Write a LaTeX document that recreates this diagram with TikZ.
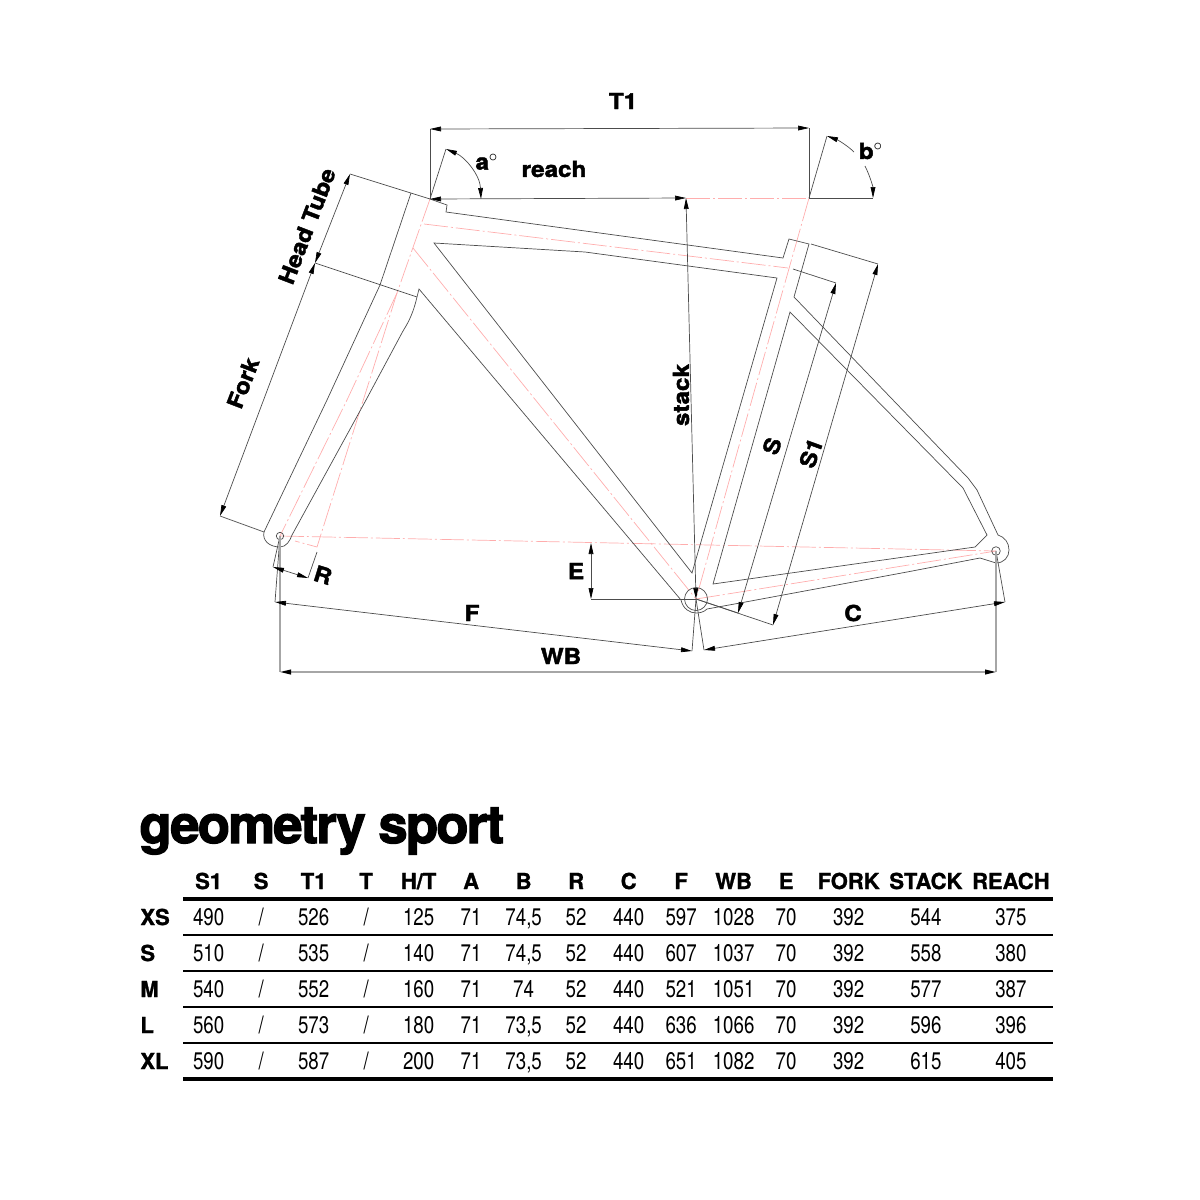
\documentclass[tikz,border=0pt]{standalone}
\usepackage{fontspec}
\usetikzlibrary{arrows.meta,matrix}
\setmainfont{TeX Gyre Heros}
\newfontfamily\cellface[FakeStretch=0.78]{TeX Gyre Heros}
\newfontfamily\headface[FakeBold=1.2]{TeX Gyre Heros Bold}
\newfontfamily\dimface[FakeBold=2,FakeStretch=1.1]{TeX Gyre Heros Bold}
\newfontfamily\titleface[FakeBold=2.5,LetterSpace=-3.3]{TeX Gyre Heros Bold}
\begin{document}
\begin{tikzpicture}[x=0.5pt,y=-0.5pt,>={Stealth[length=5.5pt,width=2.4pt,inset=0pt,black]},
frameline/.style={draw=black!70,line width=0.35pt,line join=miter},
axisline/.style={draw=red!32,line width=0.35pt,dash pattern=on 12pt off 1.5pt on 1pt off 1.5pt},
dimline/.style={draw=black!70,line width=0.35pt},
wideline/.style={draw=black!35,line width=0.7pt},
dimlabel/.style={font=\dimface\fontsize{11}{11}\selectfont,inner sep=0pt,text=black},
thinrule/.style={draw=black,line width=1pt},
thickrule/.style={draw=black,line width=1.8pt}
]
\useasboundingbox (0,0) rectangle (1200,1200);
\coordinate (axle) at (280,536);
\coordinate (bb) at (696,599);
\coordinate (drop) at (996,551);
\coordinate (headtop) at (430,199);
\coordinate (seattop) at (809,198);
\coordinate (stacktop) at (686,198);
\coordinate (forkmid) at (315,263);
\coordinate (forktop) at (350,174);
\coordinate (forkend) at (220,516);
% Centre lines:
\draw[axisline] (headtop) -- (397,293) -- (317,547) -- (295,541);
\draw[axisline] (397,293) -- (347,400) -- (axle);
\draw[axisline] (424,224) -- (788,268);
\draw[axisline] (413,248) -- (bb);
\draw[axisline] (seattop) -- (758,378) -- (bb);
\draw[axisline] (stacktop) -- (seattop);
\draw[axisline] (axle) -- (drop);
\draw[axisline] (bb) -- (740,592) -- (drop);
% The frame:
\draw[frameline] (411,193) -- (380,285) -- (327,400) -- (264,532)
  .. controls (262,541) and (270,547) .. (280,547) .. controls (286,547) and (290,541) .. (292,535)
  -- (366,400) -- (403,331) .. controls (410,320) and (414,310) .. (417,297) -- (419,289) -- (681,600)
  .. controls (683,609) and (690,613) .. (696,613) .. controls (700,613) and (704,612) .. (707,609)
  -- (740,603) -- (907,572) -- (980,558) -- (996,563)
  .. controls (1004,563) and (1009,557) .. (1009,550) .. controls (1009,543) and (1005,537) .. (998,535)
  -- (977,490) -- (968,478) -- (794,297) -- (809,244) -- (789,239) -- (783,258) -- (446,212) -- (447,205) -- (headtop);
\draw[frameline] (434,243) -- (585,252) -- (777,278) -- (692,573) -- cycle;
\draw[frameline] (790,312) -- (713,584) -- (975,547) -- (987,535) -- (963,488) -- cycle;
\draw[frameline] (bb) circle (11.5);
\draw[frameline] (axle) circle (3.7);
\draw[frameline] (drop) circle (4.3);
% Extension lines:
\draw[dimline] (forktop) -- (headtop);
\draw[dimline] (forkmid) -- (417,297);
\draw[dimline] (forkend) -- (264,532);
\draw[dimline] (headtop) -- (430,129);
\draw[dimline] (seattop) -- (809,128);
\draw[dimline] (headtop) -- (446,149);
\draw[dimline] (seattop) -- (827,136);
\draw[dimline] (seattop) -- (873,198);
\draw[dimline] (axle) -- (273,567);
\draw[dimline] (317,552) -- (308,578);
\draw[dimline] (axle) -- (275,602);
\draw[dimline] (bb) -- (692,651);
\draw[dimline] (bb) -- (704,650);
\draw[dimline] (drop) -- (1005,602);
\draw[dimline] (591,599) -- (bb);
\draw[dimline] (bb) -- (738,613);
\draw[dimline] (bb) -- (773,625);
\draw[dimline] (793,269) -- (836,283);
\draw[dimline] (811,244) -- (878,264);
\draw[wideline] (axle) -- (280,672);
\draw[wideline] (drop) -- (996,672);
% Dimensions:
\draw[dimline,<->] (430,129) -- (809,128);
\draw[dimline,<->] (headtop) -- (stacktop);
\draw[dimline,<->] (stacktop) -- (bb);
\draw[dimline,<->] (446,149) .. controls (465,157) and (480,175) .. (481,199);
\draw[dimline,<-] (827,136) .. controls (838,140) and (848,146) .. (854,152);
\draw[dimline,->] (865,166) .. controls (870,176) and (873,187) .. (873,198);
\draw[dimline,<->] (forktop) -- (forkmid);
\draw[dimline,<->] (forkmid) -- (forkend);
\draw[dimline,<->] (273,567) -- (308,578);
\draw[dimline,<->] (275,602) -- (692,651);
\draw[dimline,<->] (704,650) -- (1005,602);
\draw[wideline,<->] (280,672) -- (996,672);
\draw[dimline,<->] (591,543) -- (591,599);
\draw[dimline,<->] (836,283) -- (738,613);
\draw[dimline,<->] (878,264) -- (773,625);
% Labels:
\node (t1) [dimlabel] at (623,101) {T1};
\node (reach) [dimlabel] at (554,169) {reach};
\node (a) [dimlabel] at (487,162) {a$^{\circ}$};
\node (b) [dimlabel] at (871,151) {b$^{\circ}$};
\node (headtube) [dimlabel,rotate=69] at (307,226) {Head Tube};
\node (fork) [dimlabel,rotate=69] at (243,383) {Fork};
\node (stack) [dimlabel,rotate=90] at (681,395) {stack};
\node (s) [dimlabel,rotate=70] at (772,446) {S};
\node (s1) [dimlabel,rotate=70] at (811,453) {S1};
\node (e) [dimlabel] at (576,571) {E};
\node (f) [dimlabel] at (472,613) {F};
\node (wb) [dimlabel] at (561,656) {WB};
\node (c) [dimlabel] at (853,613) {C};
\node (r) [dimlabel,rotate=-17] at (323,575) {R};
% The table:
\node (title) [anchor=base west,inner sep=0pt,font=\titleface\fontsize{26.3}{26.3}\selectfont] at (139,843) {geometry sport};
\matrix (geo) [matrix of nodes,anchor=north west,inner sep=0pt,row sep=0pt,column sep=0pt,
  nodes={inner sep=0pt,minimum width=26.25pt,minimum height=18pt,text height=8.6pt,text depth=0pt,font=\cellface\fontsize{12}{12}\selectfont},
  column 1/.style={nodes={minimum width=21pt,text width=21pt,align=left,font=\headface\fontsize{11}{11}\selectfont}},
  row 1/.style={nodes={font=\headface\fontsize{11}{11}\selectfont}},
  column 14/.style={nodes={minimum width=36.25pt}},
  column 15/.style={nodes={minimum width=41pt}},
  column 16/.style={nodes={minimum width=44pt}}
] at (140,862) {
 & S1 & S & T1 & T & H/T & A & B & R & C & F & WB & E & FORK & STACK & REACH \\
XS & 490 & / & 526 & / & 125 & 71 & 74,5 & 52 & 440 & 597 & 1028 & 70 & 392 & 544 & 375 \\
S & 510 & / & 535 & / & 140 & 71 & 74,5 & 52 & 440 & 607 & 1037 & 70 & 392 & 558 & 380 \\
M & 540 & / & 552 & / & 160 & 71 & 74 & 52 & 440 & 521 & 1051 & 70 & 392 & 577 & 387 \\
L & 560 & / & 573 & / & 180 & 71 & 73,5 & 52 & 440 & 636 & 1066 & 70 & 392 & 596 & 396 \\
XL & 590 & / & 587 & / & 200 & 71 & 73,5 & 52 & 440 & 651 & 1082 & 70 & 392 & 615 & 405 \\
};
\draw[thickrule] (183,899) -- (1053,899);
\draw[thinrule] (183,935) -- (1053,935);
\draw[thinrule] (183,971) -- (1053,971);
\draw[thinrule] (183,1007) -- (1053,1007);
\draw[thinrule] (183,1043) -- (1053,1043);
\draw[thickrule] (183,1079) -- (1053,1079);
\end{tikzpicture}
\end{document}
